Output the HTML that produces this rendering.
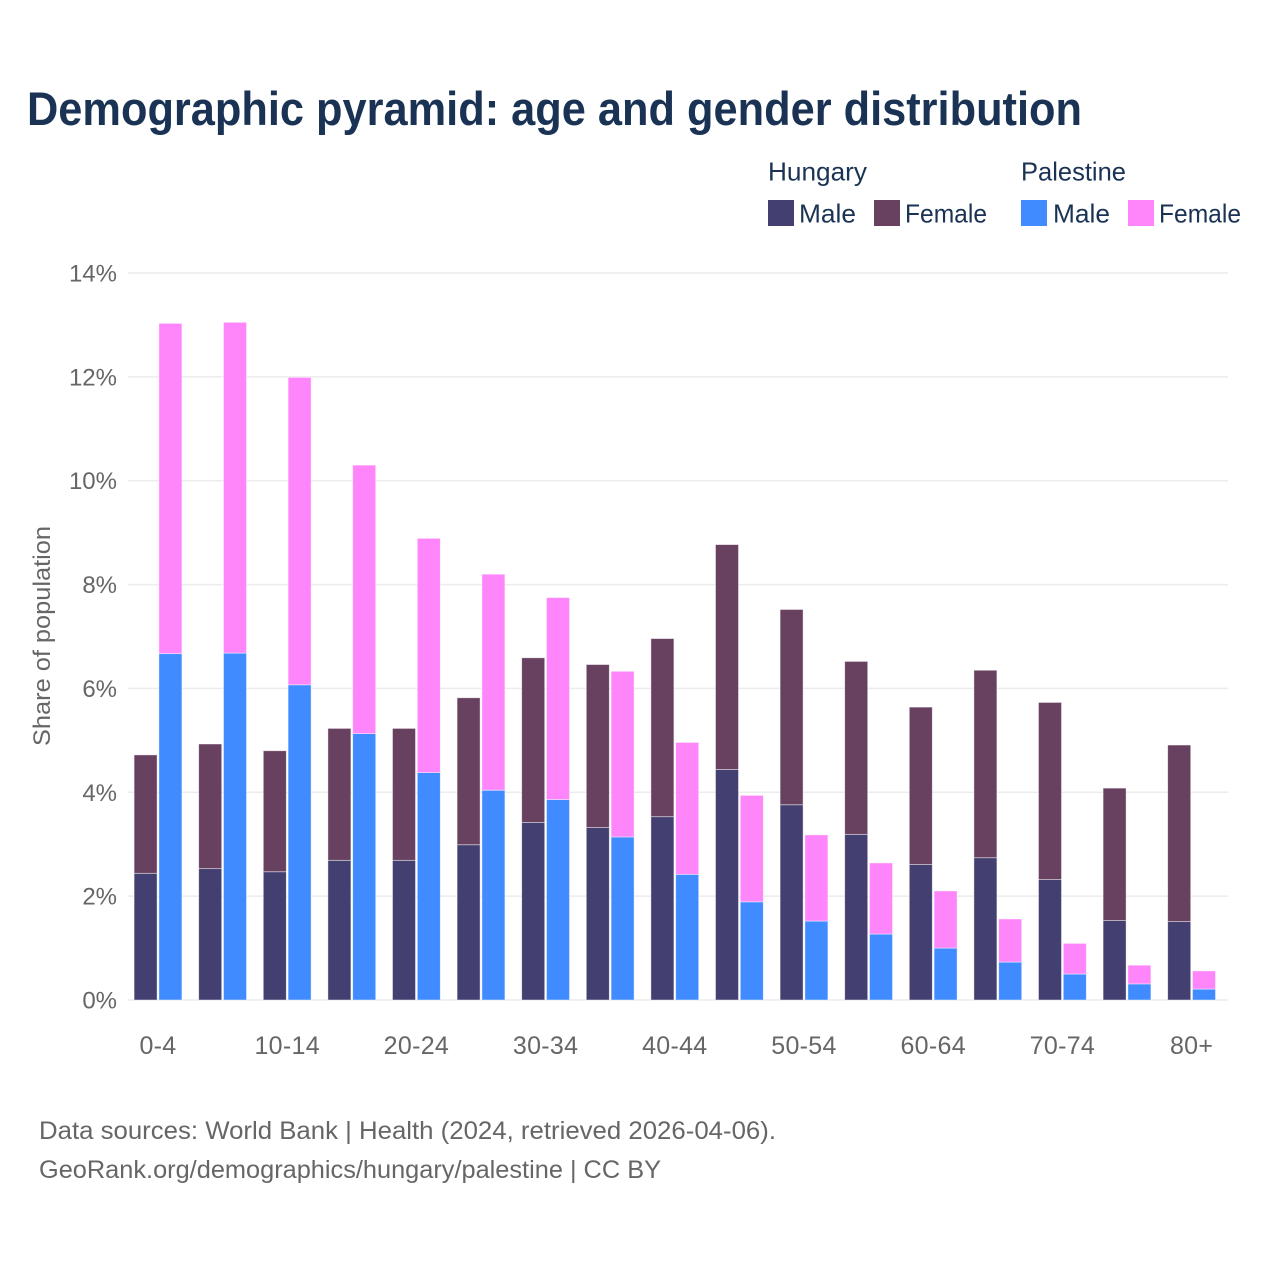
<!DOCTYPE html>
<html lang="en">
<head>
<meta charset="utf-8">
<title>Demographic pyramid</title>
<style>
  html, body { margin: 0; padding: 0; background: #ffffff; }
  svg { display: block; font-family: "Liberation Sans", sans-serif; }
</style>
</head>
<body>
<svg id="chart" xmlns="http://www.w3.org/2000/svg" width="1280" height="1280" viewBox="0 0 1280 1280">
  <rect x="0" y="0" width="1280" height="1280" fill="#ffffff"/>
  <text x="27" y="125" font-size="47" font-weight="700" fill="#1a3354" textLength="1055" lengthAdjust="spacingAndGlyphs">Demographic pyramid: age and gender distribution</text>

  <g font-size="26" fill="#1a3354">
    <text x="768" y="180.500" textLength="99" lengthAdjust="spacingAndGlyphs">Hungary</text>
    <text x="1021" y="180.500" textLength="105" lengthAdjust="spacingAndGlyphs">Palestine</text>
    <g>
      <rect x="768" y="200" width="26" height="26" fill="#433f70"/>
      <text x="799" y="222.500" textLength="57" lengthAdjust="spacingAndGlyphs">Male</text>
    </g>
    <g>
      <rect x="874" y="200" width="26" height="26" fill="#684160"/>
      <text x="905" y="222.500" textLength="82" lengthAdjust="spacingAndGlyphs">Female</text>
    </g>
    <g>
      <rect x="1021" y="200" width="26" height="26" fill="#3f8bff"/>
      <text x="1053" y="222.500" textLength="57" lengthAdjust="spacingAndGlyphs">Male</text>
    </g>
    <g>
      <rect x="1128" y="200" width="26" height="26" fill="#ff85fa"/>
      <text x="1159" y="222.500" textLength="82" lengthAdjust="spacingAndGlyphs">Female</text>
    </g>
  </g>

  <g id="grid"></g>
  <g id="y-ticks"></g>
  <g id="bars"></g>
  <g id="x-ticks"></g>

  <text transform="translate(50 636) rotate(-90)" text-anchor="middle" font-size="24" fill="#666666" textLength="220" lengthAdjust="spacingAndGlyphs">Share of population</text>

  <text x="39" y="1139" font-size="25" fill="#666666" textLength="737" lengthAdjust="spacingAndGlyphs">Data sources: World Bank | Health (2024, retrieved 2026-04-06).</text>
  <text x="39" y="1178" font-size="25" fill="#666666" textLength="622" lengthAdjust="spacingAndGlyphs">GeoRank.org/demographics/hungary/palestine | CC BY</text>
</svg>
<script>
const categories = ["0-4","5-9","10-14","15-19","20-24","25-29","30-34","35-39","40-44","45-49","50-54","55-59","60-64","65-69","70-74","75-79","80+"];
const hungaryMale = [2.44,2.53,2.47,2.69,2.69,2.99,3.42,3.32,3.53,4.44,3.76,3.19,2.61,2.74,2.32,1.53,1.51];
const hungaryFemale = [2.28,2.40,2.33,2.54,2.54,2.83,3.17,3.14,3.43,4.33,3.76,3.33,3.03,3.61,3.41,2.55,3.40];
const palestineMale = [6.67,6.68,6.07,5.13,4.38,4.04,3.86,3.14,2.42,1.89,1.52,1.27,1.00,0.73,0.50,0.31,0.21];
const palestineFemale = [6.36,6.37,5.92,5.17,4.51,4.16,3.89,3.19,2.54,2.05,1.66,1.37,1.10,0.83,0.59,0.36,0.35];
const yTicks = [0,2,4,6,8,10,12,14];
const xTickLabels = ["0-4","10-14","20-24","30-34","40-44","50-54","60-64","70-74","80+"];

const NS = "http://www.w3.org/2000/svg";
const yScale = v => 1000 - v * (727 / 14);
const xCenter = i => 158 + i * 64.6;
const barWidth = 23;
const barGap = 1.8;

const grid = document.getElementById("grid");
const yTickGroup = document.getElementById("y-ticks");
yTicks.forEach(t => {
  const line = document.createElementNS(NS, "line");
  
  
  line.setAttribute("x1", 128);
  line.setAttribute("x2", 1228);
  line.setAttribute("y1", yScale(t));
  line.setAttribute("y2", yScale(t));
  line.setAttribute("stroke", "#ececec");
  line.setAttribute("stroke-width", 1.5);
  grid.appendChild(line);

  const label = document.createElementNS(NS, "text");
  
  
  label.setAttribute("x", 117);
  label.setAttribute("y", yScale(t) + 8.5);
  label.setAttribute("text-anchor", "end");
  label.setAttribute("font-size", 24);
  label.setAttribute("fill", "#666666");
  label.textContent = t + "%";
  yTickGroup.appendChild(label);
});

const barLayer = document.getElementById("bars");
function drawBar(x, from, to, color, name) {
  const r = document.createElementNS(NS, "rect");
  
  
  r.setAttribute("x", x);
  r.setAttribute("y", yScale(to));
  r.setAttribute("width", barWidth);
  r.setAttribute("height", yScale(from) - yScale(to));
  r.setAttribute("fill", color);
  r.setAttribute("stroke", "#ffffff");
  r.setAttribute("stroke-opacity", "0.55");
  r.setAttribute("stroke-width", "0.8");
  barLayer.appendChild(r);
}
categories.forEach((c, i) => {
  const left = xCenter(i) - barGap / 2 - barWidth;
  const right = xCenter(i) + barGap / 2;
  drawBar(left, 0, hungaryMale[i], "#433f70", "bar-hungary-male-" + c);
  drawBar(left, hungaryMale[i], hungaryMale[i] + hungaryFemale[i], "#684160", "bar-hungary-female-" + c);
  drawBar(right, 0, palestineMale[i], "#3f8bff", "bar-palestine-male-" + c);
  drawBar(right, palestineMale[i], palestineMale[i] + palestineFemale[i], "#ff85fa", "bar-palestine-female-" + c);
});

const xTickGroup = document.getElementById("x-ticks");
xTickLabels.forEach(t => {
  const label = document.createElementNS(NS, "text");
  
  
  label.setAttribute("x", xCenter(categories.indexOf(t)));
  label.setAttribute("y", 1054);
  label.setAttribute("text-anchor", "middle");
  label.setAttribute("font-size", 25);
  label.setAttribute("letter-spacing", "0.3");
  label.setAttribute("fill", "#666666");
  label.textContent = t;
  xTickGroup.appendChild(label);
});
</script>
</body>
</html>
